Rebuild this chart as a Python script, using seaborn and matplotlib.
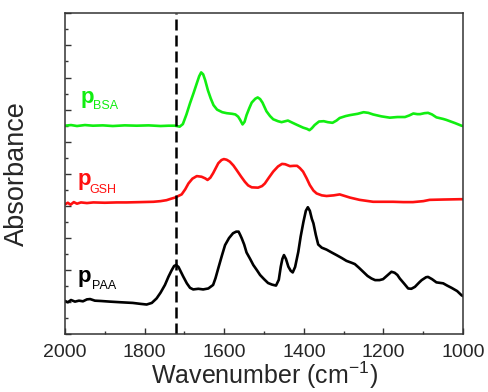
import matplotlib
matplotlib.use('Agg')
import matplotlib.pyplot as plt
from matplotlib.ticker import MultipleLocator
import pandas as pd
import seaborn as sns

# FTIR spectra (offset stacked, arbitrary units)
bsa_wn = [2000, 1985, 1970, 1950, 1930, 1905, 1880, 1850, 1820, 1790, 1760, 1740, 1724, 1712,
          1704, 1695, 1686, 1677, 1669, 1663, 1658, 1653, 1648, 1641, 1634, 1627, 1618, 1605,
          1594, 1580, 1572, 1565, 1560, 1554, 1549, 1544, 1537, 1531, 1522, 1516, 1510, 1504,
          1494, 1485, 1477, 1465, 1456, 1440, 1430, 1418, 1402, 1392, 1386, 1380, 1373, 1362,
          1350, 1340, 1328, 1318, 1310, 1295, 1284, 1265, 1250, 1238, 1226, 1205, 1184, 1165,
          1146, 1135, 1125, 1115, 1108, 1097, 1088, 1078, 1067, 1050, 1042, 1020, 1004, 1000]
bsa_abs = [6.50, 6.52, 6.49, 6.52, 6.50, 6.51, 6.49, 6.51, 6.50, 6.51, 6.49, 6.50, 6.50, 6.47,
           6.55, 6.85, 7.20, 7.52, 7.82, 8.04, 8.16, 8.10, 7.92, 7.60, 7.35, 7.14, 7.00, 6.92,
           6.89, 6.87, 6.85, 6.78, 6.68, 6.54, 6.62, 6.83, 7.05, 7.22, 7.34, 7.38, 7.33, 7.22,
           6.95, 6.80, 6.70, 6.64, 6.61, 6.66, 6.60, 6.53, 6.44, 6.40, 6.36, 6.42, 6.52, 6.63,
           6.64, 6.61, 6.59, 6.66, 6.74, 6.80, 6.83, 6.87, 6.92, 6.90, 6.85, 6.79, 6.75, 6.77,
           6.77, 6.82, 6.88, 6.86, 6.86, 6.89, 6.90, 6.85, 6.76, 6.71, 6.68, 6.58, 6.50, 6.49]

gsh_wn = [2000, 1993, 1986, 1978, 1970, 1960, 1945, 1929, 1900, 1870, 1845, 1810, 1778, 1760,
          1745, 1735, 1724, 1707, 1698, 1690, 1680, 1669, 1657, 1648, 1642, 1635, 1628, 1615,
          1607, 1601, 1594, 1586, 1577, 1569, 1558, 1548, 1540, 1531, 1515, 1505, 1498, 1488,
          1477, 1465, 1455, 1447, 1435, 1425, 1417, 1410, 1402, 1393, 1385, 1376, 1368, 1355,
          1343, 1325, 1310, 1297, 1284, 1260, 1226, 1200, 1176, 1150, 1126, 1100, 1084, 1050,
          1008, 1000]
gsh_abs = [4.05, 4.10, 4.04, 4.12, 4.07, 4.11, 4.09, 4.11, 4.10, 4.11, 4.11, 4.12, 4.13, 4.15,
           4.18, 4.22, 4.26, 4.36, 4.52, 4.70, 4.85, 4.93, 4.91, 4.86, 4.81, 4.88, 5.02, 5.33,
           5.43, 5.46, 5.44, 5.38, 5.26, 5.12, 4.92, 4.75, 4.64, 4.58, 4.57, 4.62, 4.70, 4.88,
           5.07, 5.23, 5.31, 5.30, 5.24, 5.25, 5.25, 5.18, 5.07, 4.86, 4.65, 4.48, 4.39, 4.33,
           4.31, 4.33, 4.36, 4.31, 4.26, 4.19, 4.13, 4.13, 4.13, 4.12, 4.12, 4.15, 4.19, 4.20,
           4.21, 4.21]

paa_wn = [2000, 1993, 1985, 1975, 1965, 1955, 1945, 1937, 1925, 1910, 1887, 1860, 1830, 1810,
          1795, 1782, 1770, 1760, 1749, 1740, 1732, 1726, 1721, 1715, 1711, 1703, 1694, 1686,
          1678, 1665, 1653, 1640, 1628, 1622, 1615, 1606, 1598, 1588, 1578, 1570, 1564, 1560,
          1556, 1550, 1544, 1535, 1527, 1518, 1510, 1500, 1490, 1480, 1470, 1463, 1458, 1454,
          1450, 1445, 1439, 1433, 1428, 1422, 1414, 1408, 1401, 1395, 1390, 1385, 1380, 1376,
          1370, 1364, 1355, 1343, 1330, 1318, 1305, 1293, 1280, 1272, 1262, 1251, 1240, 1230,
          1221, 1210, 1201, 1190, 1180, 1172, 1165, 1159, 1148, 1138, 1130, 1121, 1110, 1104,
          1093, 1088, 1078, 1067, 1050, 1040, 1029, 1015, 1004, 1000]
paa_abs = [1.04, 1.00, 1.07, 1.02, 1.05, 1.03, 1.09, 1.10, 1.05, 1.04, 1.02, 1.00, 0.98, 0.95,
           0.93, 0.98, 1.12, 1.30, 1.54, 1.80, 2.00, 2.13, 2.16, 2.10, 2.00, 1.80, 1.59, 1.45,
           1.40, 1.42, 1.40, 1.43, 1.54, 1.75, 2.06, 2.45, 2.78, 3.00, 3.15, 3.20, 3.20, 3.10,
           2.99, 2.80, 2.55, 2.35, 2.16, 2.00, 1.85, 1.72, 1.60, 1.55, 1.52, 1.70, 2.11, 2.35,
           2.47, 2.35, 2.11, 1.98, 1.93, 2.10, 2.57, 3.05, 3.51, 3.85, 3.96, 3.85, 3.60, 3.46,
           3.10, 2.80, 2.70, 2.64, 2.55, 2.47, 2.38, 2.29, 2.23, 2.19, 2.08, 1.95, 1.82, 1.74,
           1.69, 1.69, 1.72, 1.84, 1.95, 1.92, 1.85, 1.74, 1.58, 1.43, 1.42, 1.48, 1.62, 1.69,
           1.78, 1.79, 1.72, 1.62, 1.59, 1.52, 1.45, 1.35, 1.22, 1.19]

dashed_wn = 1722

sns.set_style('ticks')
plt.rcParams['font.family'] = ['Liberation Sans', 'DejaVu Sans']
plt.rcParams['mathtext.fontset'] = 'custom'
plt.rcParams['mathtext.rm'] = 'Liberation Sans'
plt.rcParams['mathtext.it'] = 'Liberation Sans:italic'
plt.rcParams['mathtext.bf'] = 'Liberation Sans:bold'
plt.rcParams['mathtext.default'] = 'regular'

fig = plt.figure(figsize=(4.89, 3.92), dpi=100)
ax = fig.add_axes([0.133, 0.147, 0.814, 0.819])

series = [('BSA', bsa_wn, bsa_abs, '#11ee11'),
          ('GSH', gsh_wn, gsh_abs, '#ff1010'),
          ('PAA', paa_wn, paa_abs, '#000000')]
for name, wn, ab, col in series:
    df = pd.DataFrame({'wavenumber': wn, 'absorbance': ab})
    sns.lineplot(x='wavenumber', y='absorbance', data=df, color=col, lw=1.9,
                 estimator=None, ax=ax)

ax.axvline(dashed_wn, color='black', lw=1.8, ls=(0, (4.4, 2.0)))

# curve labels: bold p with a small subscript
labels = [('BSA', '#11ee11', (1961, 7.20), (1929, 7.01)),
          ('GSH', '#ff1010', (1969, 4.65), (1939, 4.41)),
          ('PAA', '#000000', (1969, 1.62), (1933, 1.41))]
for sub, col, ppos, spos in labels:
    ax.text(*ppos, 'p', color=col, fontsize=16, fontweight='bold', ha='left', va='baseline')
    ax.text(*spos, sub, color=col, fontsize=9, ha='left', va='baseline')

ax.set_xlim(2000, 1000)
ax.set_ylim(0, 10)
ax.xaxis.set_major_locator(MultipleLocator(200))
ax.xaxis.set_minor_locator(MultipleLocator(100))
ax.yaxis.set_major_locator(MultipleLocator(1))
ax.yaxis.set_minor_locator(MultipleLocator(0.5))
ax.tick_params(which='both', direction='in', top=False, right=False, width=1.0, color='#333333')
ax.tick_params(which='major', length=4.5)
ax.tick_params(which='minor', length=2.5)
ax.tick_params(axis='x', labelsize=14, pad=7)
ax.tick_params(axis='y', labelleft=False)
for s in ax.spines.values():
    s.set_visible(True)
    s.set_linewidth(1.1)
    s.set_color('#333333')

ax.set_xlabel('Wavenumber (cm$^{-1}$)', fontsize=18, labelpad=-1)
ax.set_ylabel('Absorbance', fontsize=19.5, labelpad=22)

fig.savefig('out.png', dpi=100)
plt.close(fig)
